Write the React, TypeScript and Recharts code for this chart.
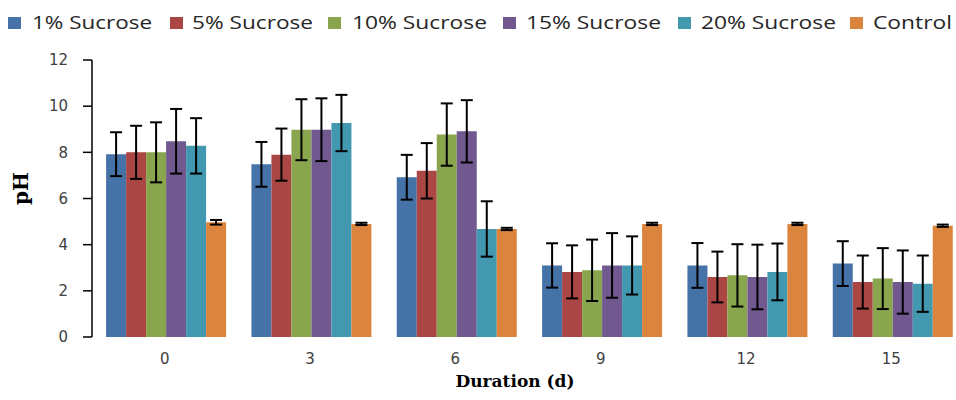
import { BarChart, Bar, XAxis, YAxis, ErrorBar, Legend } from "recharts";

const days = ["0", "3", "6", "9", "12", "15"];
const yTicks = [0, 2, 4, 6, 8, 10, 12];
const bounds = [0, 1, 2, 3, 4, 5, 6];

const sucrose1 = [7.92, 7.48, 6.92, 3.1, 3.1, 3.18];
const sucrose5 = [8.0, 7.9, 7.2, 2.82, 2.6, 2.38];
const sucrose10 = [8.0, 8.98, 8.77, 2.89, 2.67, 2.53];
const sucrose15 = [8.48, 8.98, 8.91, 3.1, 2.6, 2.38];
const sucrose20 = [8.28, 9.27, 4.68, 3.1, 2.82, 2.31];
const control = [4.97, 4.9, 4.68, 4.9, 4.9, 4.82];

const err1 = [0.95, 0.97, 0.97, 0.96, 0.97, 0.97];
const err5 = [1.15, 1.13, 1.2, 1.15, 1.1, 1.15];
const err10 = [1.3, 1.32, 1.35, 1.33, 1.35, 1.32];
const err15 = [1.4, 1.36, 1.35, 1.4, 1.4, 1.37];
const err20 = [1.2, 1.22, 1.2, 1.26, 1.23, 1.22];
const errC = [0.1, 0.05, 0.05, 0.05, 0.05, 0.05];

const SERIES = [
  { key: "s1", name: "1% Sucrose", color: "#4572A7", vals: sucrose1, errs: err1 },
  { key: "s5", name: "5% Sucrose", color: "#AA4643", vals: sucrose5, errs: err5 },
  { key: "s10", name: "10% Sucrose", color: "#89A54E", vals: sucrose10, errs: err10 },
  { key: "s15", name: "15% Sucrose", color: "#71588F", vals: sucrose15, errs: err15 },
  { key: "s20", name: "20% Sucrose", color: "#4198AF", vals: sucrose20, errs: err20 },
  { key: "ctrl", name: "Control", color: "#DB843D", vals: control, errs: errC },
];

const data = days.map((d, i) => {
  const row: Record<string, string | number> = { day: d };
  SERIES.forEach(s => {
    row[s.key] = s.vals[i];
    row[s.key + "Err"] = s.errs[i];
  });
  return row;
});

// legend slots (square x, text x, text width) as laid out in the figure
const LEGEND_POS = [
  [8, 32, 120],
  [170, 192, 121],
  [328, 352, 135],
  [503, 526, 135],
  [678, 701, 135],
  [850, 873, 79],
];

function TopLegend() {
  return (
    <svg width={956} height={36} style={{ display: "block" }}>
      {SERIES.map((s, i) => {
        const [sx, tx, tw] = LEGEND_POS[i];
        return (
          <g key={s.key}>
            <rect x={sx} y={17} width={13} height={12} fill={s.color} />
            <text
              x={tx} y={29} textLength={tw} lengthAdjust="spacingAndGlyphs"
              fontFamily="'Open Sans', sans-serif" fontSize={19} fill="#262626"
            >
              {s.name}
            </text>
          </g>
        );
      })}
    </svg>
  );
}

const tickFont = { fontFamily: "'DejaVu Sans', sans-serif", fontSize: 15, fill: "#404040" };

export default function App() {
  return (
    <div style={{ position: "absolute", left: 0, top: 0, width: 956, height: 400, overflow: "hidden", background: "#fff" }}>
      <BarChart
        width={970}
        height={400}
        data={data}
        margin={{ top: 24, right: 6, left: 0, bottom: 0 }}
        barCategoryGap="9.7%"
        barGap={0}
      >
        <Legend
          verticalAlign="top"
          align="left"
          height={36}
          content={() => <TopLegend />}
          wrapperStyle={{ left: 0, top: 0 }}
        />
        <XAxis
          xAxisId="bounds"
          type="number"
          domain={[0, 6]}
          ticks={bounds}
          allowDataOverflow
          height={0}
          tick={false}
          tickSize={6}
          axisLine={{ stroke: "#000", strokeWidth: 1.5 }}
          tickLine={{ stroke: "#000", strokeWidth: 1.5 }}
        />
        <XAxis
          xAxisId="cat"
          dataKey="day"
          height={63}
          axisLine={false}
          tickLine={false}
          tickSize={0}
          tickMargin={16}
          tick={tickFont}
          label={({ viewBox }: any) => (
            <text
              x={viewBox.x + viewBox.width / 2 - 13}
              y={viewBox.y + 50}
              textAnchor="middle"
              fontFamily="'DejaVu Serif', serif"
              fontWeight="bold"
              fontSize={17}
              fill="#000"
            >
              Duration (d)
            </text>
          )}
        />
        <YAxis
          width={92}
          domain={[0, 12]}
          ticks={yTicks}
          tickSize={9}
          tickMargin={15}
          tick={tickFont}
          axisLine={{ stroke: "#000", strokeWidth: 1.5 }}
          tickLine={{ stroke: "#000", strokeWidth: 1.5 }}
          label={({ viewBox }: any) => (
            <text
              transform={`translate(${viewBox.x + 28}, ${viewBox.y + viewBox.height / 2 - 10}) rotate(-90)`}
              textAnchor="middle"
              fontFamily="'DejaVu Serif', serif"
              fontWeight="bold"
              fontSize={20}
              fill="#000"
            >
              pH
            </text>
          )}
        />
        {SERIES.map(s => (
          <Bar
            key={s.key}
            xAxisId="cat"
            dataKey={s.key}
            name={s.name}
            fill={s.color}
            isAnimationActive={false}
          >
            <ErrorBar dataKey={s.key + "Err"} width={6} stroke="#000" strokeWidth={2} />
          </Bar>
        ))}
      </BarChart>
    </div>
  );
}
